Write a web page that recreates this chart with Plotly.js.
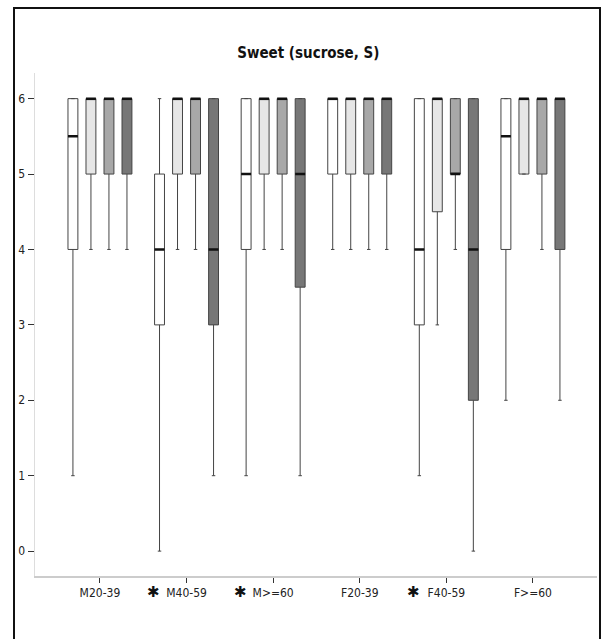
<!DOCTYPE html>
<html>
<head>
<meta charset="utf-8">
<script src="https://cdn.plot.ly/plotly-3.0.1.min.js"></script>
<style>
  html, body { margin: 0; padding: 0; background: #fff; }
  #wrap { position: relative; width: 607px; height: 639px; overflow: hidden; }
  #chart { position: absolute; left: 0; top: 0; width: 607px; height: 639px; }
  #frame { position: absolute; left: 13px; top: 7px; width: 588px; height: 700px;
           border: 2px solid #111; pointer-events: none; box-sizing: border-box; }
</style>
</head>
<body>
<div id="wrap">
  <div id="chart"></div>
  <div id="frame"></div>
</div>
<script>
// Categories (groups on the x axis)
const categories = ["M20-39", "M40-59", "M>=60", "F20-39", "F40-59", "F>=60"];
const starred = [false, true, true, false, true, false];

// Series 1 (white boxes)
const s1_q1  = [4, 3, 4, 5, 3, 4];
const s1_med = [5.5, 4, 5, 6, 4, 5.5];
const s1_q3  = [6, 5, 6, 6, 6, 6];
const s1_lo  = [1, 0, 1, 4, 1, 2];
const s1_hi  = [6, 6, 6, 6, 6, 6];

// Series 2 (light grey boxes)
const s2_q1  = [5, 5, 5, 5, 4.5, 5];
const s2_med = [6, 6, 6, 6, 6, 6];
const s2_q3  = [6, 6, 6, 6, 6, 6];
const s2_lo  = [4, 4, 4, 4, 3, 5];
const s2_hi  = [6, 6, 6, 6, 6, 6];

// Series 3 (medium grey boxes)
const s3_q1  = [5, 5, 5, 5, 5, 5];
const s3_med = [6, 6, 6, 6, 5, 6];
const s3_q3  = [6, 6, 6, 6, 6, 6];
const s3_lo  = [4, 4, 4, 4, 4, 4];
const s3_hi  = [6, 6, 6, 6, 6, 6];

// Series 4 (dark grey boxes)
const s4_q1  = [5, 3, 3.5, 5, 2, 4];
const s4_med = [6, 4, 5, 6, 4, 6];
const s4_q3  = [6, 6, 6, 6, 6, 6];
const s4_lo  = [4, 1, 1, 4, 0, 2];
const s4_hi  = [6, 6, 6, 6, 6, 6];

const yTicks = [0, 1, 2, 3, 4, 5, 6];

const series = [
  {q1: s1_q1, med: s1_med, q3: s1_q3, lo: s1_lo, hi: s1_hi, fill: "#ffffff", grp: "a"},
  {q1: s2_q1, med: s2_med, q3: s2_q3, lo: s2_lo, hi: s2_hi, fill: "#e6e6e6", grp: "b"},
  {q1: s3_q1, med: s3_med, q3: s3_q3, lo: s3_lo, hi: s3_hi, fill: "#a8a8a8", grp: "c"},
  {q1: s4_q1, med: s4_med, q3: s4_q3, lo: s4_lo, hi: s4_hi, fill: "#777777", grp: "d"}
];

const traces = [];
series.forEach(s => {
  traces.push({
    type: "box", x: categories,
    q1: s.q1, median: s.med, q3: s.q3, lowerfence: s.lo, upperfence: s.hi,
    fillcolor: s.fill, line: {color: "#444", width: 1},
    whiskerwidth: 0.35, boxpoints: false, hoverinfo: "skip",
    offsetgroup: s.grp, showlegend: false
  });
});
// Thick median lines overlaid on each box
series.forEach(s => {
  traces.push({
    type: "box", x: categories,
    q1: s.med, median: s.med, q3: s.med, lowerfence: s.med, upperfence: s.med,
    fillcolor: "rgba(0,0,0,0)", line: {color: "#111", width: 2.5},
    whiskerwidth: 0, boxpoints: false, hoverinfo: "skip",
    offsetgroup: s.grp, showlegend: false
  });
});

const annotations = [];
categories.forEach((c, i) => {
  if (starred[i]) {
    annotations.push({
      x: c, xref: "x", y: 0, yref: "paper", yanchor: "top",
      text: "✱", showarrow: false, xshift: -33, yshift: -5,
      font: {family: "DejaVu Sans", size: 15, color: "#111"}
    });
  }
});

const layout = {
  width: 607, height: 639,
  margin: {l: 35, r: 10, t: 73, b: 63},
  paper_bgcolor: "#ffffff", plot_bgcolor: "#ffffff",
  boxmode: "group", boxgap: 0.168, boxgroupgap: 0.45,
  title: {
    text: "<b>Sweet (sucrose, S)</b>",
    font: {family: "DejaVu Sans Condensed, sans-serif", size: 15, color: "#111"},
    x: 0.508, xanchor: "center", y: 0.918, yanchor: "middle"
  },
  xaxis: {
    type: "category", range: [-0.75, 5.74],
    showline: true, linecolor: "#cccccc", linewidth: 1.5,
    ticks: "outside", ticklen: 5, tickcolor: "#333", tickwidth: 1,
    showgrid: false, zeroline: false,
    tickfont: {family: "DejaVu Sans Condensed", size: 12, color: "#222"}
  },
  yaxis: {
    range: [-0.33, 6.34], tickvals: yTicks, ticktext: yTicks.map(String),
    showline: true, linecolor: "#dddddd", linewidth: 1.5,
    ticks: "outside", ticklen: 6, tickcolor: "#333", tickwidth: 1,
    showgrid: false, zeroline: false,
    tickfont: {family: "DejaVu Sans Condensed", size: 12, color: "#222"}
  },
  annotations: annotations,
  showlegend: false
};

Plotly.newPlot("chart", traces, layout, {displayModeBar: false, staticPlot: true});
</script>
</body>
</html>
